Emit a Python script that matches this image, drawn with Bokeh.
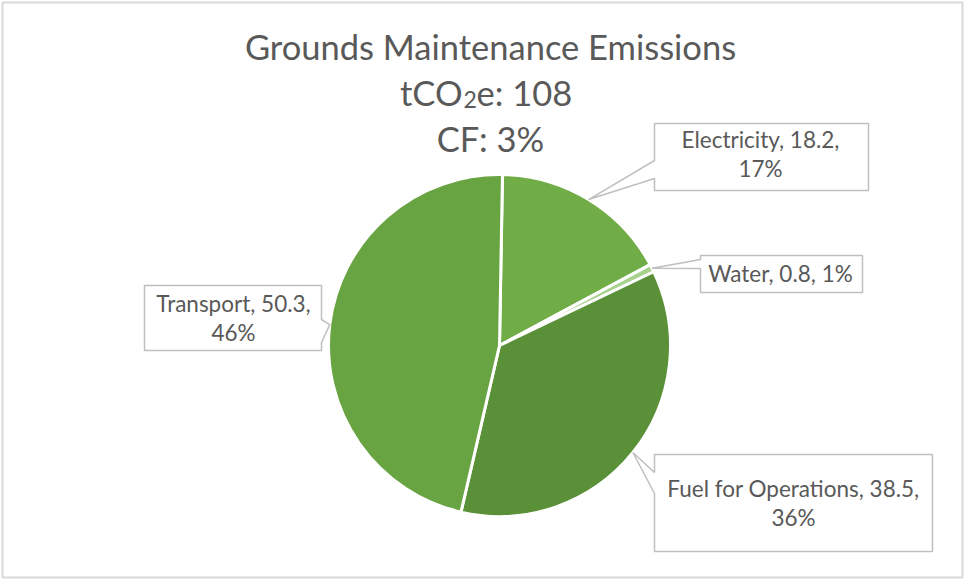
import math
from bokeh.plotting import figure
from bokeh.models import Range1d, ColumnDataSource
from bokeh.core.properties import value
from bokeh.embed import file_html
from bokeh.resources import INLINE

# ---------------- data ----------------
categories = ["Electricity", "Water", "Fuel for Operations", "Transport"]
values = [18.2, 0.8, 38.5, 50.3]
pct_labels = ["17%", "1%", "36%", "46%"]
colors = ["#70AD47", "#A9D18E", "#5A9038", "#69A443"]
title_main = "Grounds Maintenance Emissions"
total_label = "108"
cf_label = "CF: 3%"

# ---------------- layout helpers ----------------
W, H = 964, 580
FONT = "Lato"
TXT = "#595959"


def Y(yp):
    return H - yp


p = figure(width=W, height=H, x_range=Range1d(0, W), y_range=Range1d(0, H),
           output_backend="svg", toolbar_location=None, min_border=0,
           x_axis_type=None, y_axis_type=None)
p.grid.visible = False
p.outline_line_color = None
p.background_fill_color = "white"
p.border_fill_color = "white"

# chart-area border
p.quad(left=[2], right=[962], top=[Y(2)], bottom=[Y(577)], fill_color=None,
       line_color="#D9D9D9", line_width=2)

# ---------------- pie ----------------
cx, cyp, r = 499, 345, 171
cy = Y(cyp)
start0 = math.radians(89)
total = sum(values)
starts, ends, mids = [], [], []
cum = 0.0
for v in values:
    a0 = start0 - 2 * math.pi * cum / total
    cum += v
    a1 = start0 - 2 * math.pi * cum / total
    starts.append(a0)
    ends.append(a1)
    mids.append((a0 + a1) / 2)

src = ColumnDataSource(dict(start=starts, end=ends, color=colors))
p.wedge(x=cx, y=cy, radius=r, start_angle="start", end_angle="end",
        direction="clock", fill_color="color", line_color="white",
        line_width=3, source=src)

tips = [(cx + r * math.cos(m), cy + r * math.sin(m)) for m in mids]

# ---------------- callouts ----------------
# (x0, y0, x1, y1, side, b1, b2) in page coordinates
boxes = [
    (654, 123, 868, 190, "left", 160, 178),
    (700, 255, 862, 292, "left", 259, 268),
    (654, 454, 932, 551, "left", 472, 493),
    (144, 285, 321, 350, "right", 319, 342),
]
xs, ys = [], []
for (x0, y0, x1, y1, side, b1, b2), (tx, ty) in zip(boxes, tips):
    if side == "left":
        pts = [(x0, Y(y0)), (x1, Y(y0)), (x1, Y(y1)), (x0, Y(y1)),
               (x0, Y(b2)), (tx, ty), (x0, Y(b1))]
    else:
        pts = [(x0, Y(y0)), (x1, Y(y0)), (x1, Y(b1)), (tx, ty),
               (x1, Y(b2)), (x1, Y(y1)), (x0, Y(y1))]
    xs.append([q[0] for q in pts])
    ys.append([q[1] for q in pts])
p.patches(xs, ys, fill_color="white", line_color="#BFBFBF", line_width=1.5)

# label texts
lab_x, lab_y, lab_t = [], [], []
line_specs = [
    (760, [139, 168]),
    (780, [273]),
    (793, [488, 517]),
    (233, [303, 332]),
]
for (cat, v, pc), (lx, bases) in zip(zip(categories, values, pct_labels), line_specs):
    if len(bases) == 1:
        lines = [f"{cat}, {v}, {pc}"]
    else:
        lines = [f"{cat}, {v},", pc]
    for t, b in zip(lines, bases):
        lab_x.append(lx)
        lab_y.append(Y(b))
        lab_t.append(t)
p.text(x=lab_x, y=lab_y, text=lab_t, text_font=value(FONT), text_font_size="22.5px",
       text_color=TXT, text_align="center", text_baseline="alphabetic")

# ---------------- title ----------------
p.text(x=[490], y=[Y(46)], text=[title_main], text_font=value(FONT),
       text_font_size="34.5px", text_color=TXT, text_align="center",
       text_baseline="alphabetic")
p.text(x=[462], y=[Y(92)], text=["tCO"], text_font=value(FONT),
       text_font_size="34.5px", text_color=TXT, text_align="right",
       text_baseline="alphabetic")
p.text(x=[463], y=[Y(99)], text=["2"], text_font=value(FONT),
       text_font_size="23px", text_color=TXT, text_align="left",
       text_baseline="alphabetic")
p.text(x=[476], y=[Y(92)], text=["e: " + total_label], text_font=value(FONT),
       text_font_size="34.5px", text_color=TXT, text_align="left",
       text_baseline="alphabetic")
p.text(x=[490], y=[Y(138)], text=[cf_label], text_font=value(FONT),
       text_font_size="34.5px", text_color=TXT, text_align="center",
       text_baseline="alphabetic")

open("out.html", "w").write(file_html(p, INLINE))
